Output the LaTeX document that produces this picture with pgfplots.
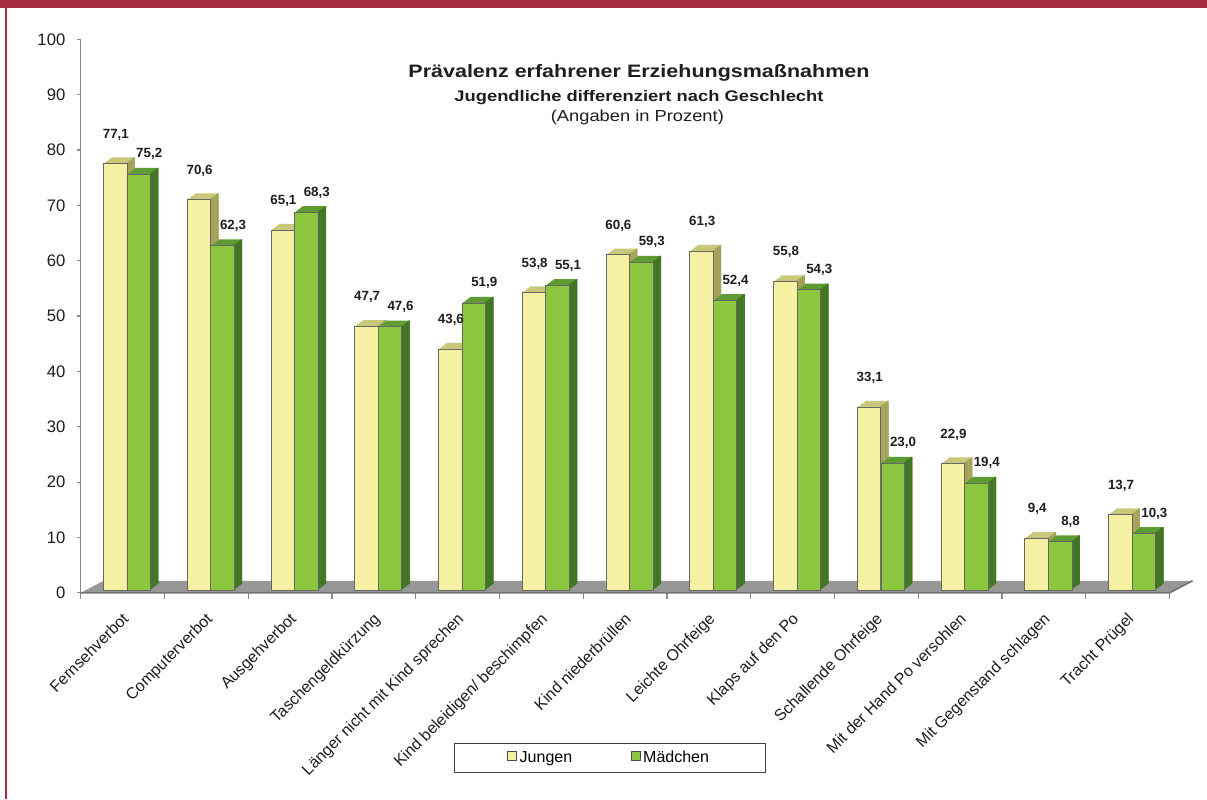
\documentclass[border=0pt]{standalone}
\usepackage{fontspec}
\setmainfont{Liberation Sans}
\usepackage{graphicx}
\usepackage{pgfplots}
\usepackage{pgfplotstable}
\pgfplotsset{compat=1.18}

\definecolor{frame}{HTML}{A52B41}
\definecolor{jface}{HTML}{F6F1A2}
\definecolor{jtop}{HTML}{C9C77C}
\definecolor{jside}{HTML}{A3A15A}
\definecolor{mface}{HTML}{8CC53E}
\definecolor{mtop}{HTML}{5E9C33}
\definecolor{mside}{HTML}{407524}
\definecolor{floor}{HTML}{979797}
\definecolor{axisgray}{HTML}{8A8A8A}
\definecolor{ink}{HTML}{1E1E1E}

% Jungen (j) und Mädchen (m), Angaben in Prozent
\pgfplotstableread{
x  j     m
0  77.1  75.2
1  70.6  62.3
2  65.1  68.3
3  47.7  47.6
4  43.6  51.9
5  53.8  55.1
6  60.6  59.3
7  61.3  52.4
8  55.8  54.3
9  33.1  23.0
10 22.9  19.4
11 9.4   8.8
12 13.7  10.3
}\data

\newcommand{\val}{\pgfmathprintnumber[fixed, fixed zerofill, precision=1, use comma, assume math mode=true]{\pgfplotspointmeta}}

\begin{document}
\begin{tikzpicture}
\path[use as bounding box] (-60.5pt,-154.65pt) rectangle (844.7pt,444.6pt);
\fill[white] (-60.5pt,-154.65pt) rectangle (844.7pt,444.6pt);
\fill[frame] (-60.5pt,438.6pt) rectangle (844.7pt,444.6pt);
\fill[frame] (-57pt,-154.65pt) rectangle (-55pt,444.6pt);

\begin{axis}[
  at={(0,0)}, anchor=south west, scale only axis,
  width=816.6pt, height=415.1pt,
  xmin=-0.5, xmax=12.5, ymin=0, ymax=100,
  axis lines*=left,
  x axis line style={draw=none},
  y axis line style={axisgray, line width=0.9pt},
  tick align=outside,
  /pgf/number format/assume math mode=true,
  ytick={0,10,...,100},
  ytick style={axisgray, line width=0.9pt},
  major tick length=3pt,
  yticklabel style={font=\fontsize{12.5}{15}\selectfont, text=ink, xshift=-5pt},
  xtick={0,...,12},
  xticklabels={Fernsehverbot, Computerverbot, Ausgehverbot, Taschengeldkürzung,
    Länger nicht mit Kind sprechen, Kind beleidigen/ beschimpfen, Kind niederbrüllen,
    Leichte Ohrfeige, Klaps auf den Po, Schallende Ohrfeige, Mit der Hand Po versohlen,
    Mit Gegenstand schlagen, Tracht Prügel},
  xtick style={draw=none},
  xticklabel style={xshift=-1pt, yshift=-11pt, rotate=45, anchor=north east,
    inner sep=0pt, font=\fontsize{12}{14}\selectfont, text=ink},
  extra x ticks={-0.5,0.5,...,12.5},
  extra x tick labels={},
  extra x tick style={xtick style={draw=axisgray, line width=0.9pt}, major tick length=4.5pt},
  legend columns=2,
  legend style={at={(0.4857,-0.2985)}, anchor=center, draw=black!75, line width=0.6pt,
    inner xsep=40pt, inner ysep=4pt, font=\fontsize{12}{14}\selectfont,
    /tikz/every even column/.append style={column sep=42pt}},
  legend image code/.code={\draw[#1, draw=black!70, line width=0.5pt] (0pt,-3.4pt) rectangle (6.75pt,3.4pt);},
  clip=false,
]
% floor
\fill[floor] (axis cs:-0.5,0) -- (axis cs:12.5,0) -- ([shift={(17.25pt,9pt)}]axis cs:12.5,0)
  -- ([shift={(17.25pt,9pt)}]axis cs:-0.5,0) -- cycle;
\draw[black!55, line width=1.2pt] (axis cs:-0.5,0) -- (axis cs:12.5,0) -- ([shift={(17.25pt,9pt)}]axis cs:12.5,0);

% Jungen: top face, side face, front face
\pgfplotsinvokeforeach{6,5,4,3,2,1}{
  \addplot[ybar, bar width=17.6pt, bar shift=-5.6pt, fill=jtop, draw=none,
    xshift=#1pt, yshift={2pt+#1*0.75pt}, forget plot] table[x=x, y=j] {\data};
}
\pgfplotsinvokeforeach{1,2,3,4,5,6}{
  \addplot[ybar, bar width=1.1pt, bar shift=2.7pt, fill=jside, draw=none,
    xshift=#1pt, yshift={2pt+#1*0.75pt}, forget plot] table[x=x, y=j] {\data};
}
\addplot[ybar, bar width=17.6pt, bar shift=-5.6pt, fill=jface, draw=black!60,
  line width=0.4pt, yshift=2pt] table[x=x, y=j] {\data};
\addlegendentry{Jungen}

% Mädchen: top face, side face, front face
\pgfplotsinvokeforeach{6,5,4,3,2,1}{
  \addplot[ybar, bar width=17.6pt, bar shift=12.1pt, fill=mtop, draw=none,
    xshift=#1pt, yshift={2pt+#1*0.75pt}, forget plot] table[x=x, y=m] {\data};
}
\pgfplotsinvokeforeach{1,2,3,4,5,6}{
  \addplot[ybar, bar width=1.1pt, bar shift=20.4pt, fill=mside, draw=none,
    xshift=#1pt, yshift={2pt+#1*0.75pt}, forget plot] table[x=x, y=m] {\data};
}
\addplot[ybar, bar width=17.6pt, bar shift=12.1pt, fill=mface, draw=black!60,
  line width=0.4pt, yshift=2pt] table[x=x, y=m] {\data};
\addlegendentry{Mädchen}

% value labels
\addplot[ybar, bar width=17.6pt, bar shift=-5.6pt, draw=none, fill=none, forget plot,
  nodes near coords={\val},
  nodes near coords style={anchor=base, yshift=21pt, xshift=-5pt, font=\bfseries\fontsize{10}{12}\selectfont, text=ink}]
  table[x=x, y=j] {\data};
\addplot[ybar, bar width=17.6pt, bar shift=12.1pt, draw=none, fill=none, forget plot,
  nodes near coords={\val},
  nodes near coords style={anchor=base, yshift=14pt, xshift=20pt, font=\bfseries\fontsize{10}{12}\selectfont, text=ink}]
  table[x=x, y=m] {\data};
\end{axis}

\node[anchor=base, text=ink, inner sep=0pt] at (418.7pt,386.6pt)
  {\resizebox{345.75pt}{\height}{\bfseries\fontsize{13.5}{15}\selectfont Prävalenz erfahrener Erziehungsmaßnahmen}};
\node[anchor=base, text=ink, inner sep=0pt] at (418.7pt,368.5pt)
  {\resizebox{276.75pt}{\height}{\bfseries\fontsize{11.5}{13}\selectfont Jugendliche differenziert nach Geschlecht}};
\node[anchor=base, text=ink, inner sep=0pt] at (417.5pt,353.1pt)
  {\resizebox{129.75pt}{\height}{\fontsize{12}{14}\selectfont (Angaben in Prozent)}};
\end{tikzpicture}
\end{document}
